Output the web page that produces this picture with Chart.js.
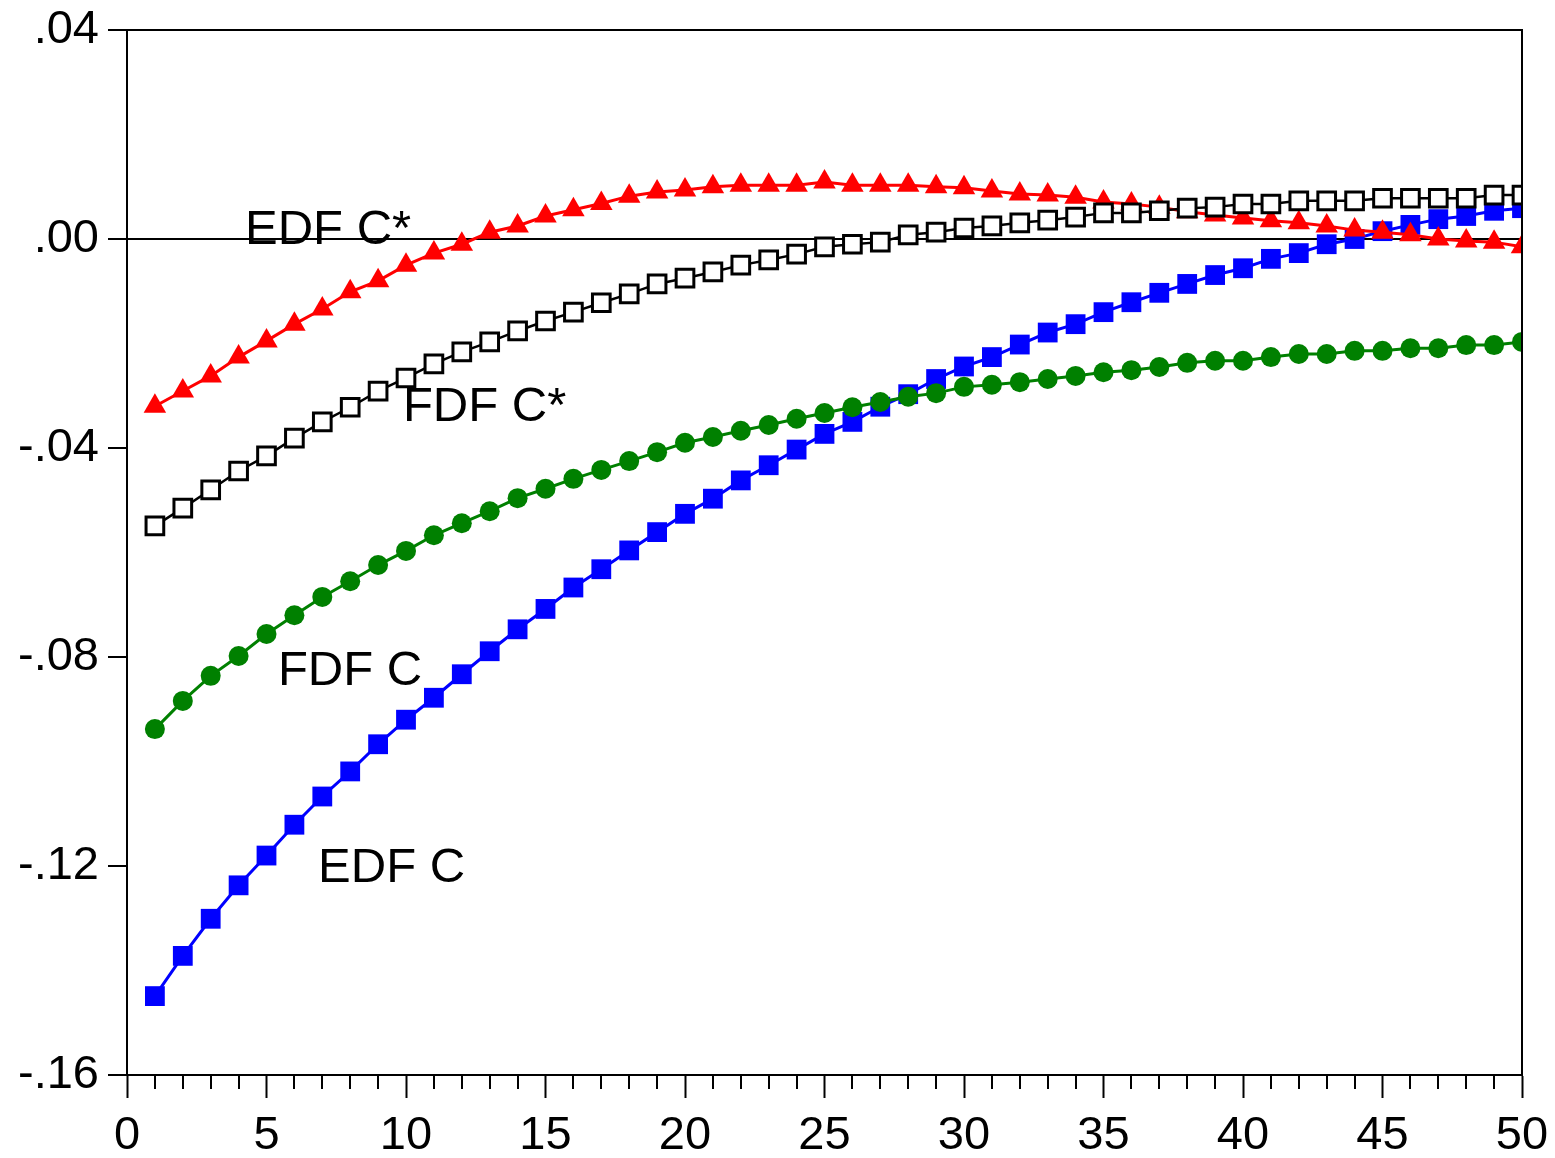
<!DOCTYPE html>
<html>
<head>
<meta charset="utf-8">
<script src="https://cdn.jsdelivr.net/npm/chart.js@4/dist/chart.umd.min.js"></script>
<style>
  html, body { margin: 0; padding: 0; background: #fff; }
  #wrap { width: 1555px; height: 1158px; }
</style>
</head>
<body>
<div id="wrap"><canvas id="chart" width="1555" height="1158"></canvas></div>
<script>
const periods = [1, 2, 3, 4, 5, 6, 7, 8, 9, 10, 11, 12, 13, 14, 15, 16, 17, 18, 19, 20,
  21, 22, 23, 24, 25, 26, 27, 28, 29, 30, 31, 32, 33, 34, 35, 36, 37, 38, 39, 40,
  41, 42, 43, 44, 45, 46, 47, 48, 49, 50];

const edfC = [-0.1449, -0.1372, -0.1301, -0.1237, -0.1180, -0.1121, -0.1067, -0.1019, -0.0967, -0.0920,
  -0.0878, -0.0833, -0.0789, -0.0747, -0.0708, -0.0667, -0.0632, -0.0596, -0.0561, -0.0526,
  -0.0497, -0.0462, -0.0433, -0.0403, -0.0373, -0.0350, -0.0321, -0.0297, -0.0268, -0.0244,
  -0.0226, -0.0202, -0.0179, -0.0163, -0.0140, -0.0121, -0.0103, -0.0086, -0.0069, -0.0056,
  -0.0038, -0.0027, -0.0010, 0.0000, 0.0015, 0.0027, 0.0038, 0.0044, 0.0054, 0.0059];

const edfCStar = [-0.0320, -0.0291, -0.0262, -0.0226, -0.0195, -0.0163, -0.0134, -0.0101, -0.0080, -0.0050,
  -0.0027, -0.0010, 0.0013, 0.0025, 0.0044, 0.0056, 0.0068, 0.0082, 0.0090, 0.0094,
  0.0100, 0.0103, 0.0103, 0.0103, 0.0109, 0.0103, 0.0103, 0.0103, 0.0100, 0.0098,
  0.0092, 0.0086, 0.0084, 0.0080, 0.0071, 0.0067, 0.0061, 0.0052, 0.0046, 0.0040,
  0.0035, 0.0031, 0.0025, 0.0017, 0.0013, 0.0008, 0.0000, -0.0004, -0.0006, -0.0015];

const fdfC = [-0.0938, -0.0884, -0.0836, -0.0798, -0.0756, -0.0720, -0.0685, -0.0655, -0.0624, -0.0597,
  -0.0567, -0.0544, -0.0521, -0.0496, -0.0478, -0.0459, -0.0442, -0.0425, -0.0408, -0.0390,
  -0.0379, -0.0367, -0.0356, -0.0344, -0.0333, -0.0322, -0.0312, -0.0302, -0.0295, -0.0283,
  -0.0279, -0.0274, -0.0268, -0.0262, -0.0255, -0.0251, -0.0245, -0.0237, -0.0233, -0.0233,
  -0.0226, -0.0220, -0.0220, -0.0214, -0.0214, -0.0209, -0.0209, -0.0203, -0.0203, -0.0197];

const fdfCStar = [-0.0549, -0.0515, -0.0480, -0.0444, -0.0415, -0.0381, -0.0350, -0.0322, -0.0291, -0.0266,
  -0.0239, -0.0216, -0.0197, -0.0176, -0.0157, -0.0140, -0.0122, -0.0105, -0.0086, -0.0075,
  -0.0063, -0.0050, -0.0040, -0.0029, -0.0015, -0.0010, -0.0006, 0.0008, 0.0013, 0.0021,
  0.0025, 0.0031, 0.0036, 0.0042, 0.0050, 0.0050, 0.0054, 0.0059, 0.0061, 0.0067,
  0.0067, 0.0073, 0.0073, 0.0073, 0.0078, 0.0078, 0.0078, 0.0078, 0.0084, 0.0084];

const yTicks = [-0.16, -0.12, -0.08, -0.04, 0.00, 0.04];
const xTicks = [0, 5, 10, 15, 20, 25, 30, 35, 40, 45, 50];

// series names written inside the plot
const seriesLabels = [
  { text: "EDF C*", x: 4.23, y: -0.0010 },
  { text: "FDF C*", x: 9.89, y: -0.0348 },
  { text: "FDF C", x: 5.41, y: -0.0854 },
  { text: "EDF C", x: 6.85, y: -0.1231 },
];

const FONT = "'Liberation Sans', Arial, Helvetica, sans-serif";

function pts(values) {
  return periods.map((p, i) => ({ x: p, y: values[i] }));
}

// frame, minor ticks on x, text labels
const extras = {
  id: "extras",
  afterDatasetsDraw(chart) {
    const { ctx, scales } = chart;
    ctx.save();
    ctx.fillStyle = "#000";
    ctx.font = "49px " + FONT;
    ctx.textBaseline = "alphabetic";
    ctx.textAlign = "left";
    seriesLabels.forEach(l => {
      ctx.fillText(l.text, scales.x.getPixelForValue(l.x), scales.y.getPixelForValue(l.y));
    });
    ctx.restore();
  },
  afterDraw(chart) {
    const { ctx, chartArea, scales } = chart;
    ctx.save();
    ctx.strokeStyle = "#000";
    ctx.lineWidth = 2;
    ctx.strokeRect(chartArea.left, chartArea.top, chartArea.right - chartArea.left, chartArea.bottom - chartArea.top);
    ctx.beginPath();
    for (let v = 1; v < 50; v++) {
      if (v % 5 === 0) continue;
      const px = Math.round(scales.x.getPixelForValue(v));
      ctx.moveTo(px, chartArea.bottom);
      ctx.lineTo(px, chartArea.bottom + 14);
    }
    ctx.stroke();
    ctx.restore();
  },
};

const ctx = document.getElementById("chart").getContext("2d");

new Chart(ctx, {
  type: "line",
  data: {
    datasets: [
      {
        label: "FDF C*",
        data: pts(fdfCStar),
        borderColor: "#000",
        borderWidth: 2.5,
        pointStyle: "rect",
        pointRadius: 12.5,
        pointBackgroundColor: "#fff",
        pointBorderColor: "#000",
        pointBorderWidth: 3,
      },
      {
        label: "FDF C",
        data: pts(fdfC),
        borderColor: "#008000",
        borderWidth: 3,
        pointStyle: "circle",
        pointRadius: 10,
        pointBackgroundColor: "#008000",
        pointBorderColor: "#008000",
        pointBorderWidth: 0,
      },
      {
        label: "EDF C*",
        data: pts(edfCStar),
        borderColor: "#ff0000",
        borderWidth: 3,
        pointStyle: "triangle",
        pointRadius: 13,
        pointBackgroundColor: "#ff0000",
        pointBorderColor: "#ff0000",
        pointBorderWidth: 0,
      },
      {
        label: "EDF C",
        data: pts(edfC),
        borderColor: "#0000ff",
        borderWidth: 3,
        pointStyle: "rect",
        pointRadius: 14,
        pointBackgroundColor: "#0000ff",
        pointBorderColor: "#0000ff",
        pointBorderWidth: 0,
      },
    ],
  },
  options: {
    responsive: false,
    animation: false,
    layout: { padding: { top: 30, right: 33, left: 0, bottom: 0 } },
    plugins: {
      legend: { display: false },
      tooltip: { enabled: false },
    },
    elements: { line: { tension: 0 } },
    scales: {
      x: {
        type: "linear",
        min: 0,
        max: 50,
        afterBuildTicks(scale) {
          scale.ticks = xTicks.map(v => ({ value: v }));
        },
        afterFit(scale) {
          scale.height = 83;
          scale.paddingLeft = 0;
          scale.paddingRight = 0;
        },
        border: { display: true, color: "#000", width: 2 },
        grid: {
          drawOnChartArea: false,
          drawTicks: true,
          tickLength: 23,
          tickColor: "#000",
          tickWidth: 2,
        },
        ticks: {
          color: "#000",
          font: { family: FONT, size: 47 },
          padding: 10,
          maxRotation: 0,
          autoSkip: false,
          callback: v => String(v),
        },
      },
      y: {
        type: "linear",
        min: -0.16,
        max: 0.04,
        afterBuildTicks(scale) {
          scale.ticks = yTicks.map(v => ({ value: v }));
        },
        afterFit(scale) {
          scale.width = 127;
          scale.paddingTop = 0;
          scale.paddingBottom = 0;
        },
        border: { display: true, color: "#000", width: 2 },
        grid: {
          drawOnChartArea: true,
          drawTicks: true,
          tickLength: 19,
          tickColor: "#000",
          tickWidth: 2,
          lineWidth: 2,
          color: c => (c.tick && Math.abs(c.tick.value) < 1e-9 ? "#000" : "rgba(0,0,0,0)"),
        },
        ticks: {
          color: "#000",
          font: { family: FONT, size: 47 },
          padding: 9,
          autoSkip: false,
          callback: v => v.toFixed(2).replace("0.", "."),
        },
      },
    },
  },
  plugins: [extras],
});
</script>
</body>
</html>
